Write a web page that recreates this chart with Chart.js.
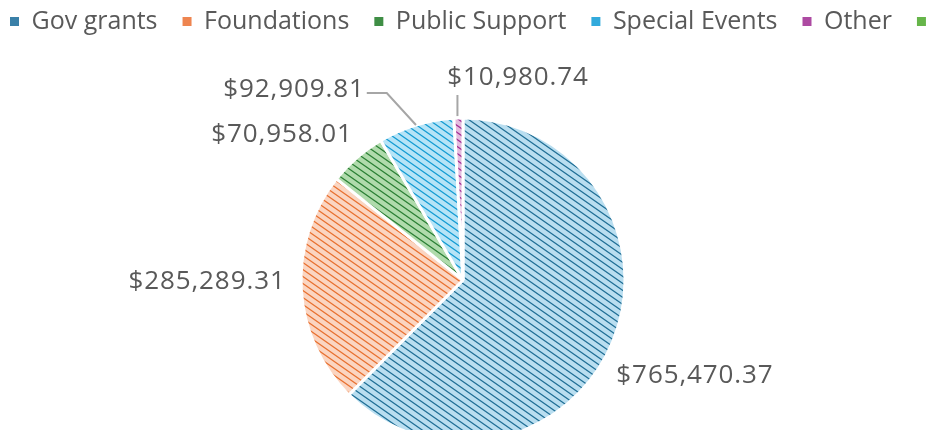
<!DOCTYPE html>
<html>
<head>
<meta charset="utf-8">
<script src="https://cdn.jsdelivr.net/npm/chart.js@4.4.1/dist/chart.umd.min.js"></script>
<style>
    html, body { margin: 0; padding: 0; background: #fff; overflow: hidden; width: 927px; height: 430px; }
    #wrap { position: absolute; left: -15px; top: -16px; width: 1200px; height: 446px; }
</style>
</head>
<body>
<div id="wrap"><canvas id="incomeChart"></canvas></div>
<script>
const categories = ['Gov grants', 'Foundations', 'Public Support', 'Special Events', 'Other', 'In-kind'];
const amounts = [765470.37, 285289.31, 70958.01, 92909.81, 10980.74, 0];

// pattern colours: light background + darker hatch line, plus legend swatch
const fillLight = ['#b9def0', '#fbd5c1', '#b0dbac', '#b6e4f7', '#e4bcde', '#c0e3b1'];
const fillDark = ['#1f6e95', '#e8702f', '#2a7f34', '#139bd3', '#a02b93', '#4ea72e'];
const swatch = ['#3a80a8', '#ee8550', '#3f8e45', '#32aadc', '#ad4aa2', '#66b54a'];

// label placement, in multiples of the pie radius from its centre
const labelOffsets = [[1.432, 0.593], [-1.58, 0.012], [-1.117, -0.895], [-1.043, -1.173], [0.34, -1.247], [0, 0]];
const labelLeaders = [null, null, null, 'elbow', 'drop', null];

const FONT = '"Open Sans", "Liberation Sans", sans-serif';

function makePattern(light, dark) {
    const tile = document.createElement('canvas');
    tile.width = 10;
    tile.height = 7;
    const c = tile.getContext('2d');
    c.fillStyle = light;
    c.fillRect(0, 0, 10, 7);
    c.strokeStyle = dark;
    c.lineWidth = 1.25;
    c.beginPath();
    c.moveTo(-10, -7); c.lineTo(20, 14);
    c.moveTo(-10, 0); c.lineTo(10, 14);
    c.moveTo(0, -7); c.lineTo(20, 7);
    c.stroke();
    return c.createPattern(tile, 'repeat');
}

const fmt = v => '$' + v.toLocaleString('en-US', { minimumFractionDigits: 2, maximumFractionDigits: 2 });

// place the pie independently of the (overflowing) legend row
const pieArea = {
    id: 'pieArea',
    afterLayout(chart) {
        const a = chart.chartArea;
        a.left = 15; a.right = 941;
        a.top = 134; a.bottom = 458;
        a.width = a.right - a.left;
        a.height = a.bottom - a.top;
    }
};

const sliceLabels = {
    id: 'sliceLabels',
    afterDatasetsDraw(chart) {
        const ctx = chart.ctx;
        const meta = chart.getDatasetMeta(0);
        ctx.save();
        ctx.font = '26px ' + FONT;
        ctx.letterSpacing = '0.9px';
        ctx.textAlign = 'center';
        ctx.textBaseline = 'middle';
        meta.data.forEach((arc, i) => {
            if (!amounts[i]) return;
            const { x, y, startAngle, endAngle, outerRadius } =
                arc.getProps(['x', 'y', 'startAngle', 'endAngle', 'outerRadius'], true);
            const text = fmt(amounts[i]);
            const w = ctx.measureText(text).width;
            const lx = x + labelOffsets[i][0] * outerRadius;
            const ly = y + labelOffsets[i][1] * outerRadius;
            const mid = (startAngle + endAngle) / 2;
            const ex = x + Math.cos(mid) * outerRadius;
            const ey = y + Math.sin(mid) * outerRadius;

            ctx.strokeStyle = '#a6a6a6';
            ctx.lineWidth = 2;
            if (labelLeaders[i] === 'elbow') {
                ctx.beginPath();
                ctx.moveTo(lx + w / 2 + 2, ly + 3);
                ctx.lineTo(lx + w / 2 + 22, ly + 3);
                ctx.lineTo(ex, ey);
                ctx.stroke();
            } else if (labelLeaders[i] === 'drop') {
                ctx.beginPath();
                ctx.moveTo(ex - 1, ly + 17);
                ctx.lineTo(ex - 1, ey - 2);
                ctx.stroke();
            }
            ctx.fillStyle = '#595959';
            ctx.fillText(text, lx, ly);
        });
        ctx.restore();
    }
};

const ctx = document.getElementById('incomeChart');
const defaultLabels = Chart.overrides.doughnut.plugins.legend.labels.generateLabels;

new Chart(ctx.getContext('2d'), {
    type: 'pie',
    data: {
        labels: categories,
        datasets: [{
            data: amounts,
            backgroundColor: fillLight.map((c, i) => makePattern(c, fillDark[i])),
            borderColor: '#ffffff',
            borderWidth: 3
        }]
    },
    options: {
        responsive: true,
        maintainAspectRatio: false,
        animation: false,
        events: [],
        radius: 162,
        plugins: {
            tooltip: { enabled: false },
            legend: {
                position: 'top',
                align: 'start',
                labels: {
                    boxWidth: 9,
                    boxHeight: 9,
                    padding: 25,
                    color: '#595959',
                    font: { size: 25, family: FONT },
                    generateLabels: chart => defaultLabels(chart).map((l, i) => ({
                        ...l, fillStyle: swatch[i], lineWidth: 0, hidden: false
                    }))
                }
            }
        }
    },
    plugins: [pieArea, sliceLabels]
});
</script>
</body>
</html>
